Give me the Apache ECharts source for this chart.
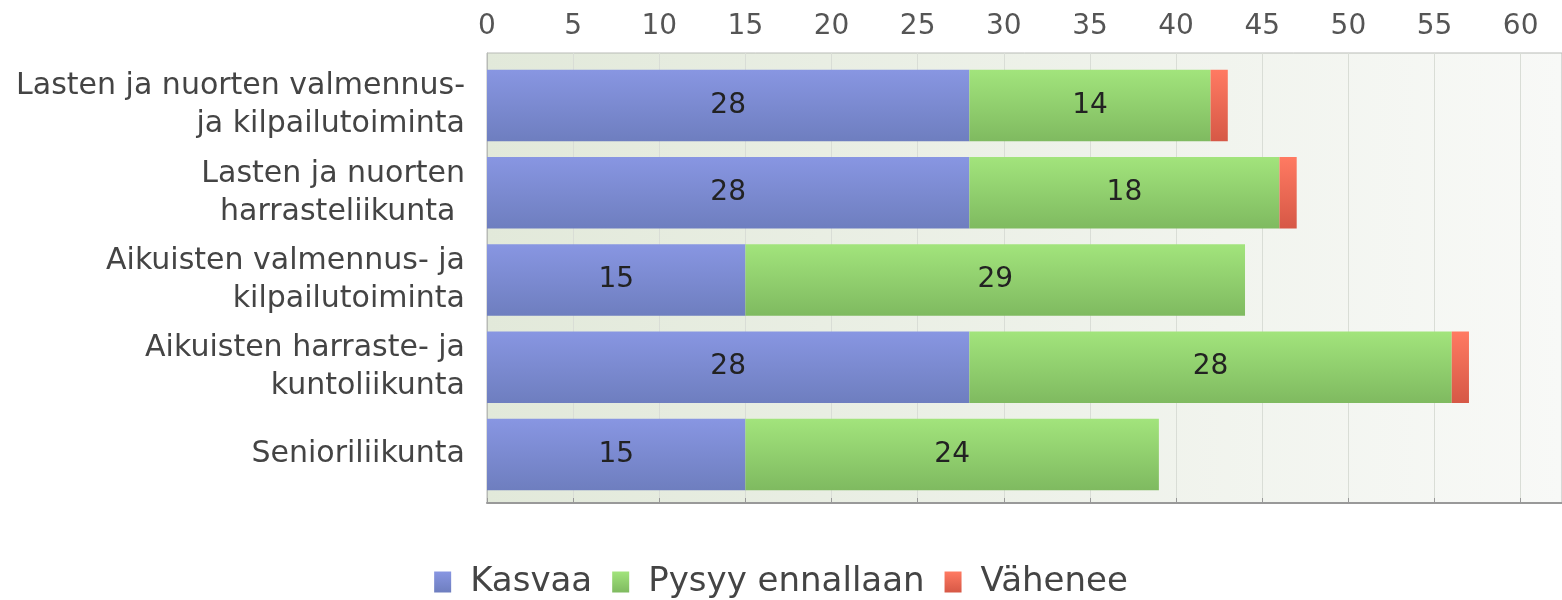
<!DOCTYPE html>
<html>
<head>
<meta charset="utf-8">
<script src="https://cdn.jsdelivr.net/npm/echarts@6/dist/echarts.min.js"></script>
<style>
  html, body { margin: 0; padding: 0; background: #fff; }
  #main { width: 1562px; height: 600px; }
</style>
</head>
<body>
<div id="main"></div>
<script>
var categories = [
    'Lasten ja nuorten valmennus-\nja kilpailutoiminta',
    'Lasten ja nuorten\nharrasteliikunta ',
    'Aikuisten valmennus- ja\nkilpailutoiminta',
    'Aikuisten harraste- ja\nkuntoliikunta',
    'Senioriliikunta'
];
var seriesNames = ['Kasvaa', 'Pysyy ennallaan', 'Vähenee'];
var kasvaa = [28, 28, 15, 28, 15];
var pysyy = [14, 18, 29, 28, 24];
var vahenee = [1, 1, 0, 1, 0];

// top / bottom colours of each bar gradient
var colTop = ['#8896e2', '#a2e47c', '#ff7a62'];
var colBot = ['#6e7ebf', '#7fba60', '#d65846'];

function grad(i) {
    return {
        type: 'linear', x: 0, y: 0, x2: 0, y2: 1,
        colorStops: [
            { offset: 0, color: colTop[i] },
            { offset: 1, color: colBot[i] }
        ]
    };
}

var chart = echarts.init(document.getElementById('main'));

var font = 'DejaVu Sans, sans-serif';
var xMax = 62.4;

function makeSeries(i, data) {
    return {
        name: seriesNames[i],
        type: 'bar',
        stack: 'total',
        xAxisIndex: 1,
        yAxisIndex: 1,
        barWidth: '82%',
        data: data,
        itemStyle: { color: grad(i) },
        label: {
            show: i < 2,
            position: 'inside',
            color: '#222',
            fontSize: 28,
            fontFamily: font
        }
    };
}

var opt = {
    animation: false,
    grid: [
        // background frame with the visible top axis
        {
            left: 487, right: 0, top: 53, bottom: 97,
            show: true,
            borderWidth: 1,
            borderColor: '#b8bbb6',
            backgroundColor: {
                type: 'linear', x: 0, y: 0, x2: 1, y2: 0,
                colorStops: [
                    { offset: 0, color: '#e2e9da' },
                    { offset: 1, color: '#f8f9f7' }
                ]
            }
        },
        // bars
        { left: 487, right: 0, top: 62, bottom: 102 }
    ],
    legend: {
        top: 560,
        left: 'center',
        itemWidth: 17,
        itemHeight: 21,
        itemGap: 20,
        icon: 'rect',
        textStyle: {
            fontSize: 34, color: '#444', fontFamily: font,
            padding: [0, 0, 0, 14]
        },
        data: seriesNames
    },
    xAxis: [
        {
            gridIndex: 0,
            type: 'value',
            position: 'top',
            min: 0,
            max: xMax,
            interval: 5,
            axisLine: { show: true, lineStyle: { color: '#999', width: 2 } },
            axisTick: { show: true, length: 5, lineStyle: { color: '#999' } },
            axisLabel: {
                showMaxLabel: false,
                fontSize: 28,
                color: '#555',
                margin: 12,
                fontFamily: font
            },
            splitLine: { show: true, lineStyle: { color: '#d9ddd6' } }
        },
        {
            gridIndex: 1,
            type: 'value',
            min: 0,
            max: xMax,
            show: false
        }
    ],
    yAxis: [
        {
            gridIndex: 0,
            type: 'value',
            min: 0,
            max: 1,
            axisLine: { show: true, lineStyle: { color: '#b8bbb6' } },
            axisTick: { show: false },
            axisLabel: { show: false },
            splitLine: { show: false }
        },
        {
            gridIndex: 1,
            type: 'category',
            inverse: true,
            data: categories,
            axisLine: { show: false },
            axisTick: { show: false },
            axisLabel: {
                fontSize: 30,
                color: '#444',
                lineHeight: 38,
                margin: 22,
                align: 'right',
                fontFamily: font
            }
        }
    ],
    series: [
        makeSeries(0, kasvaa),
        makeSeries(1, pysyy),
        makeSeries(2, vahenee)
    ]
};

chart.setOption(opt);
</script>
</body>
</html>
